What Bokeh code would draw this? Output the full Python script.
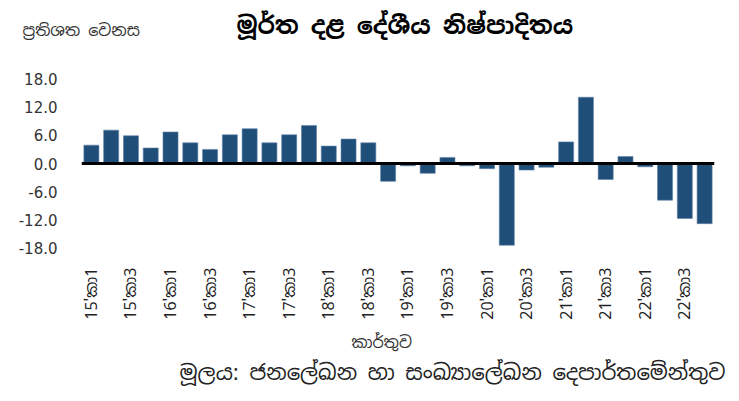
import math
from bokeh.plotting import figure
from bokeh.models import FixedTicker, NumeralTickFormatter, Span, Title, Range1d
from bokeh.embed import file_html
from bokeh.resources import INLINE

quarters = ["15'කා1", "15'කා2", "15'කා3", "15'කා4",
            "16'කා1", "16'කා2", "16'කා3", "16'කා4",
            "17'කා1", "17'කා2", "17'කා3", "17'කා4",
            "18'කා1", "18'කා2", "18'කා3", "18'කා4",
            "19'කා1", "19'කා2", "19'කා3", "19'කා4",
            "20'කා1", "20'කා2", "20'කා3", "20'කා4",
            "21'කා1", "21'කා2", "21'කා3", "21'කා4",
            "22'කා1", "22'කා2", "22'කා3", "22'කා4"]
growth = [3.9, 7.1, 5.9, 3.3, 6.7, 4.4, 3.0, 6.1,
          7.4, 4.4, 6.1, 8.1, 3.7, 5.2, 4.4, -3.8,
          -0.5, -2.1, 1.3, -0.5, -1.1, -17.4, -1.4, -0.8,
          4.6, 14.1, -3.4, 1.5, -0.7, -7.8, -11.7, -12.8]
y_ticks = [-18, -12, -6, 0, 6, 12, 18]

title_text = "මූර්ත දළ දේශීය නිෂ්පාදිතය"
ytitle_text = "ප්‍රතිශත වෙනස"
xtitle_text = "කාර්තුව"
source_text = "මූලය: ජනලේඛන හා සංඛ්‍යාලේඛන දෙපාර්තමේන්තුව"

FONT = "'Noto Sans Sinhala', 'Liberation Sans', 'Noto Sans', sans-serif"
NUMFONT = "'DejaVu Sans', sans-serif"

xs = list(range(len(quarters)))

p = figure(width=731, height=393, output_backend="svg", toolbar_location=None,
           x_range=Range1d(-0.5, len(quarters) - 0.5), y_range=Range1d(-20, 20),
           min_border_left=81, min_border_right=17, min_border_top=69, min_border_bottom=136)
p.background_fill_color = "white"
p.border_fill_color = "white"
p.outline_line_color = None
p.xgrid.visible = False
p.ygrid.visible = False

p.vbar(x=xs, top=growth, bottom=0, width=0.76, fill_color="#1F4E79", line_color="#5f83a8", line_width=0.6)
p.add_layout(Span(location=0, dimension="width", line_color="black", line_width=3))

p.yaxis.ticker = FixedTicker(ticks=y_ticks)
p.yaxis.formatter = NumeralTickFormatter(format="0.0")
p.yaxis.axis_line_color = None
p.yaxis.major_tick_line_color = None
p.yaxis.minor_tick_line_color = None
p.yaxis.major_label_standoff = 18
p.yaxis.major_label_text_font = NUMFONT
p.yaxis.major_label_text_font_size = "15px"
p.yaxis.major_label_text_color = "#333333"

p.xaxis.ticker = FixedTicker(ticks=xs[::2])
p.xaxis.major_label_overrides = {i: quarters[i] for i in xs[::2]}
p.xaxis.major_label_orientation = math.pi / 2
p.xaxis.axis_line_color = None
p.xaxis.major_tick_line_color = None
p.xaxis.minor_tick_line_color = None
p.xaxis.major_label_standoff = 4
p.xaxis.major_label_text_font = FONT
p.xaxis.major_label_text_font_size = "16px"
p.xaxis.major_label_text_color = "#222222"

# ---- texts below the chart ----
p.add_layout(Title(text=xtitle_text, align="left", offset=270, text_font=FONT,
                   text_font_size="16px", text_font_style="normal", text_color="#333333",
                   standoff=15), "below")
p.add_layout(Title(text=source_text, align="right", offset=-11, text_font=FONT,
                   text_font_size="21.2px", text_font_style="normal", text_color="#222222",
                   standoff=-8), "below")

# ---- texts above the chart (stacked from the frame upwards) ----
p.add_layout(Title(text=" ", text_font_size="1px", standoff=33), "above")          # gap
p.add_layout(Title(text=ytitle_text, align="left", offset=-59, vertical_align="middle",
                   text_font=FONT, text_font_size="16px", text_font_style="normal",
                   text_color="#333333", standoff=-17), "above")
p.add_layout(Title(text=title_text, align="left", offset=155, vertical_align="middle",
                   text_font=FONT, text_font_size="24px", text_font_style="bold",
                   text_color="black", standoff=-28), "above")
p.add_layout(Title(text=" ", text_font_size="1px", standoff=19), "above")          # top gap

open("out.html", "w").write(file_html(p, INLINE))
